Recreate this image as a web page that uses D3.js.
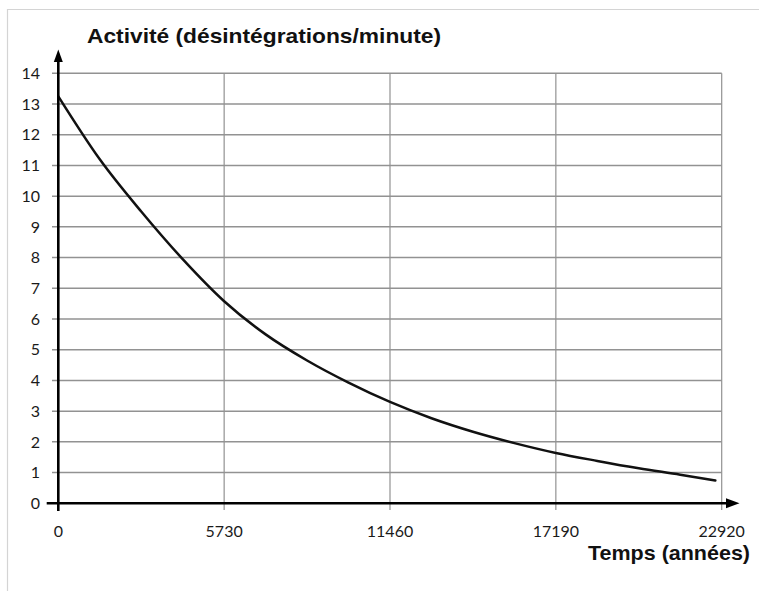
<!DOCTYPE html>
<html>
<head>
<meta charset="utf-8">
<script src="https://cdn.jsdelivr.net/npm/d3@7"></script>
<style>
  html, body { margin: 0; padding: 0; background: #fff; }
  svg { display: block; }
</style>
</head>
<body>
<svg id="chart" width="759" height="591"></svg>
<script>
// ---- data ----
const xTicks = [0, 5730, 11460, 17190, 22920];
const yTicks = [0, 1, 2, 3, 4, 5, 6, 7, 8, 9, 10, 11, 12, 13, 14];
const years = [0, 1432.5, 2865, 4297.5, 5730, 7162.5, 8595, 10027.5, 11460,
               12892.5, 14325, 15757.5, 17190, 18622.5, 20055, 21487.5, 22700];
const activity = [13.25, 11.2, 9.5, 7.95, 6.58, 5.5, 4.65, 3.93, 3.3,
                  2.77, 2.33, 1.96, 1.64, 1.38, 1.14, 0.93, 0.74];
const yTitle = "Activité (désintégrations/minute)";
const xTitle = "Temps (années)";

const svg = d3.select("#chart");

// frame
svg.append("path")
  .attr("d", "M7.5,591 L7.5,9.5 L759,9.5")
  .attr("fill", "none").attr("stroke", "#d4d4d4").attr("stroke-width", 1.2);

const x = d3.scaleLinear().domain([0, 22920]).range([58.3, 721.7]);
const y = d3.scaleLinear().domain([0, 14]).range([503.3, 73.3]);

const gridColor = "#929292";

// horizontal gridlines + left ticks
svg.append("g").selectAll("line").data(yTicks.filter(d => d > 0)).join("line")
  .attr("x1", 52).attr("x2", x(22920))
  .attr("y1", d => y(d)).attr("y2", d => y(d))
  .attr("stroke", gridColor).attr("stroke-width", 1.5);

// vertical gridlines + bottom ticks
svg.append("g").selectAll("line").data(xTicks.filter(d => d > 0)).join("line")
  .attr("x1", d => x(d)).attr("x2", d => x(d))
  .attr("y1", y(14)).attr("y2", 510)
  .attr("stroke", gridColor).attr("stroke-width", 1.2);

// y tick labels
svg.append("g").selectAll("text").data(yTicks).join("text")
  .attr("x", 40).attr("y", d => y(d)).attr("dy", "0.36em")
  .attr("text-anchor", "end")
  .attr("font-family", "Lato, 'Open Sans', sans-serif")
  .attr("font-size", 16).attr("fill", "#1a1a1a")
  .text(d => d);

// x tick labels
svg.append("g").selectAll("text").data(xTicks).join("text")
  .attr("x", d => x(d)).attr("y", 536.5)
  .attr("text-anchor", "middle")
  .attr("font-family", "Lato, 'Open Sans', sans-serif")
  .attr("font-size", 16).attr("fill", "#1a1a1a")
  .text(d => d);

// curve
const line = d3.line()
  .x((d, i) => x(years[i]))
  .y(d => y(d))
  .curve(d3.curveMonotoneX);
svg.append("path")
  .datum(activity)
  .attr("d", line)
  .attr("fill", "none").attr("stroke", "#111").attr("stroke-width", 2.5)
  .attr("stroke-linejoin", "round").attr("stroke-linecap", "round");

// axes with arrows
svg.append("line")
  .attr("x1", 46.7).attr("x2", 728).attr("y1", y(0)).attr("y2", y(0))
  .attr("stroke", "#000").attr("stroke-width", 2.6);
svg.append("line")
  .attr("x1", x(0)).attr("x2", x(0)).attr("y1", 511).attr("y2", 60)
  .attr("stroke", "#000").attr("stroke-width", 2.6);
svg.append("path")
  .attr("d", `M739.5,${y(0)} L726,${y(0) - 5} L726,${y(0) + 5} Z`)
  .attr("fill", "#000");
svg.append("path")
  .attr("d", `M${x(0)},49.5 L${x(0) - 4.5},62 L${x(0) + 4.5},62 Z`)
  .attr("fill", "#000");

// titles
svg.append("text")
  .attr("x", 87).attr("y", 43)
  .attr("font-family", "'Liberation Sans', Arial, sans-serif")
  .attr("font-weight", "bold").attr("font-size", 21).attr("fill", "#111")
  .attr("textLength", 354).attr("lengthAdjust", "spacingAndGlyphs")
  .text(yTitle);
svg.append("text")
  .attr("x", 588).attr("y", 559.5)
  .attr("font-family", "'Liberation Sans', Arial, sans-serif")
  .attr("font-weight", "bold").attr("font-size", 21).attr("fill", "#111")
  .attr("textLength", 162).attr("lengthAdjust", "spacingAndGlyphs")
  .text(xTitle);
</script>
</body>
</html>
